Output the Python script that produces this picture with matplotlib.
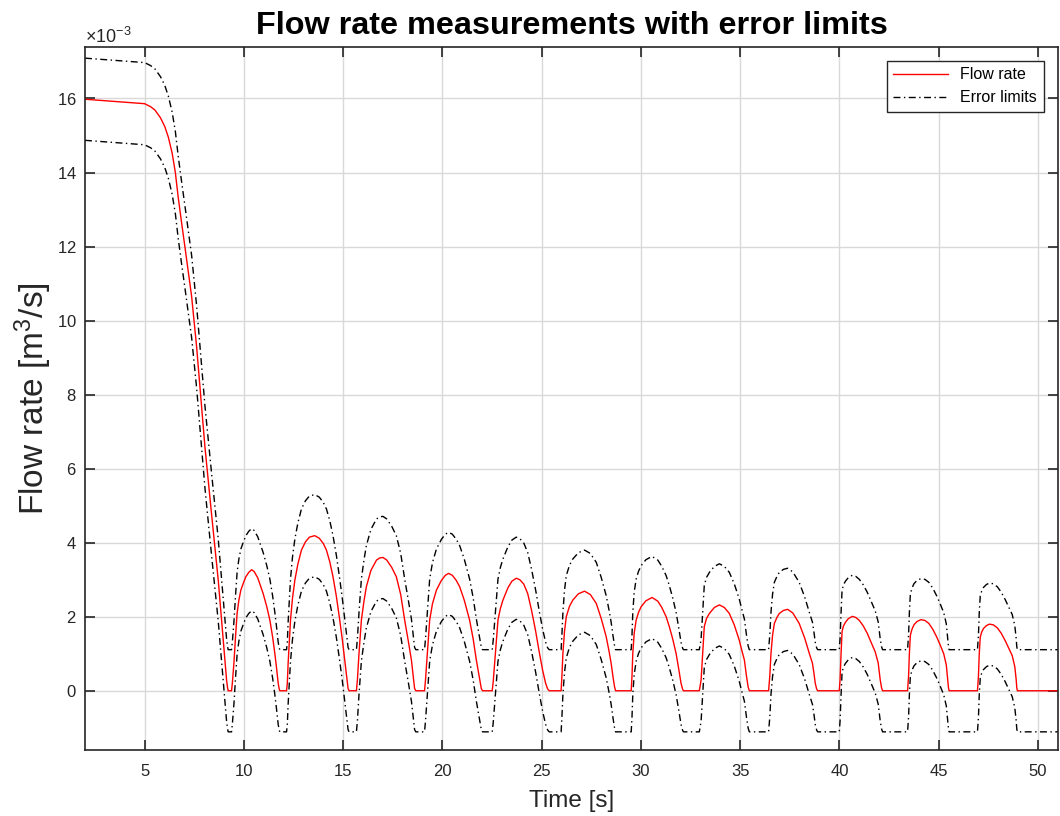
import matplotlib.pyplot as plt
from matplotlib.ticker import ScalarFormatter

plt.rcParams['font.family'] = ['Liberation Sans', 'DejaVu Sans']
plt.rcParams['mathtext.fontset'] = 'custom'
plt.rcParams['mathtext.rm'] = 'Liberation Sans'
plt.rcParams['mathtext.it'] = 'Liberation Sans:italic'

# time [s]
time = [
    2.00, 3.50, 5.00, 5.30, 5.52, 5.80, 6.02, 6.20, 6.39, 6.55, 6.69, 6.85, 7.03, 7.37, 7.62, 7.84,
    8.04, 8.37, 8.71, 8.99, 9.08, 9.13, 9.18, 9.21, 9.38,
    9.42, 9.50, 9.58, 9.66, 9.75, 9.85, 9.97, 10.10, 10.25, 10.39, 10.52, 10.70, 10.85, 10.97,
    11.15, 11.31, 11.45, 11.56, 11.65, 11.73, 11.78, 11.81, 12.15,
    12.19, 12.23, 12.35, 12.45, 12.57, 12.72, 12.90, 13.10, 13.30, 13.57, 13.80, 14.00, 14.16,
    14.33, 14.49, 14.66, 14.83, 14.96, 15.08, 15.17, 15.25, 15.30, 15.67,
    15.72, 15.80, 15.92, 16.05, 16.17, 16.40, 16.68, 16.85, 17.01, 17.20, 17.45, 17.68, 17.90,
    18.10, 18.28, 18.44, 18.53, 18.60, 18.66, 19.10,
    19.15, 19.22, 19.36, 19.50, 19.70, 19.95, 20.15, 20.31, 20.50, 20.70, 20.87, 21.10, 21.37,
    21.55, 21.71, 21.85, 21.96, 22.02, 22.51,
    22.56, 22.63, 22.80, 22.92, 23.05, 23.30, 23.50, 23.72, 23.90, 24.10, 24.30, 24.50, 24.70,
    24.89, 25.05, 25.20, 25.30, 25.38, 25.98,
    26.02, 26.07, 26.15, 26.24, 26.40, 26.57, 26.85, 27.16, 27.45, 27.75, 28.00, 28.25, 28.40,
    28.50, 28.60, 28.67, 28.72, 29.51,
    29.55, 29.59, 29.66, 29.76, 29.88, 30.01, 30.25, 30.56, 30.85, 31.05, 31.27, 31.43, 31.60,
    31.77, 31.90, 32.02, 32.10, 32.14, 32.94,
    33.03, 33.11, 33.19, 33.30, 33.45, 33.70, 33.95, 34.20, 34.45, 34.70, 34.95, 35.10, 35.21,
    35.32, 35.40, 35.46, 36.43,
    36.49, 36.55, 36.63, 36.72, 36.85, 36.97, 37.18, 37.39, 37.65, 37.97, 38.25, 38.48, 38.64,
    38.72, 38.78, 38.85, 38.90, 39.99,
    40.03, 40.08, 40.13, 40.20, 40.30, 40.45, 40.65, 40.82, 41.00, 41.20, 41.40, 41.60, 41.80,
    41.95, 42.05, 42.12, 42.17, 43.43,
    43.48, 43.52, 43.57, 43.65, 43.75, 43.90, 44.10, 44.30, 44.50, 44.70, 44.90, 45.10, 45.25,
    45.38, 45.45, 45.49, 45.52, 46.95,
    47.00, 47.04, 47.09, 47.16, 47.25, 47.40, 47.55, 47.75, 47.95, 48.15, 48.35, 48.55, 48.70,
    48.83, 48.90, 48.93, 48.96, 51.00,
]

# flow rate [1e-3 m^3/s]
flow = [
    15.98, 15.92, 15.86, 15.78, 15.69, 15.48, 15.24, 14.95, 14.52, 14.00, 13.35, 12.70, 12.00, 10.65, 9.30, 7.88,
    6.59, 4.79, 2.99, 1.19, 0.60, 0.29, 0.08, 0.00, 0.00,
    0.20, 0.75, 1.45, 2.09, 2.45, 2.72, 2.90, 3.08, 3.20, 3.27, 3.22, 3.05, 2.82, 2.63,
    2.28, 1.91, 1.45, 1.01, 0.60, 0.20, 0.05, 0.00, 0.00,
    0.20, 0.74, 1.91, 2.50, 2.99, 3.42, 3.80, 4.02, 4.15, 4.19, 4.12, 3.98, 3.80,
    3.48, 3.08, 2.55, 1.91, 1.38, 0.83, 0.40, 0.06, 0.00, 0.00,
    0.30, 1.01, 1.91, 2.42, 2.81, 3.25, 3.53, 3.59, 3.60, 3.53, 3.33, 3.08, 2.60,
    1.91, 1.35, 0.83, 0.40, 0.06, 0.00, 0.00,
    0.30, 0.83, 1.91, 2.35, 2.72, 2.98, 3.12, 3.17, 3.12, 2.98, 2.81, 2.45, 1.91,
    1.40, 0.83, 0.40, 0.06, 0.00, 0.00,
    0.25, 0.74, 1.91, 2.22, 2.45, 2.78, 2.96, 3.04, 3.00, 2.88, 2.62, 2.15, 1.60,
    1.01, 0.55, 0.20, 0.05, 0.00, 0.00,
    0.40, 1.01, 1.60, 2.00, 2.28, 2.45, 2.62, 2.69, 2.60, 2.36, 1.95, 1.46, 1.05,
    0.74, 0.35, 0.11, 0.00, 0.00,
    0.40, 1.01, 1.55, 1.91, 2.12, 2.27, 2.43, 2.52, 2.42, 2.25, 2.00, 1.73, 1.40,
    1.01, 0.60, 0.20, 0.04, 0.00, 0.00,
    0.29, 1.01, 1.73, 1.95, 2.09, 2.25, 2.32, 2.25, 2.09, 1.78, 1.37, 1.05, 0.83,
    0.38, 0.10, 0.00, 0.00,
    0.40, 1.01, 1.50, 1.82, 1.98, 2.09, 2.17, 2.20, 2.10, 1.82, 1.42, 1.01, 0.74,
    0.45, 0.20, 0.05, 0.00, 0.00,
    0.30, 1.00, 1.60, 1.75, 1.85, 1.95, 2.01, 1.98, 1.90, 1.75, 1.55, 1.30, 1.05,
    0.75, 0.30, 0.08, 0.00, 0.00,
    0.40, 1.00, 1.50, 1.66, 1.78, 1.87, 1.92, 1.90, 1.82, 1.66, 1.45, 1.20, 1.00,
    0.70, 0.30, 0.08, 0.00, 0.00,
    0.40, 1.00, 1.45, 1.58, 1.68, 1.76, 1.80, 1.78, 1.70, 1.55, 1.35, 1.12, 0.95,
    0.65, 0.30, 0.08, 0.00, 0.00,
]

# absolute measurement error [1e-3 m^3/s]
error = 1.11

assert len(time) == len(flow)

flow_si = [v * 1e-3 for v in flow]
upper = [(v + error) * 1e-3 for v in flow]
lower = [(v - error) * 1e-3 for v in flow]

fig = plt.figure(figsize=(10.6, 8.16), dpi=100)
ax = fig.add_axes([0.0802, 0.0809, 0.9178, 0.8619])

dash = (0, (5, 2.5, 1, 2.5))
ax.plot(time, flow_si, color='red', lw=1.0, label='Flow rate')
ax.plot(time, upper, color='black', lw=1.0, linestyle=dash, label='Error limits')
ax.plot(time, lower, color='black', lw=1.0, linestyle=dash)

ax.set_xlim(2, 51)
ax.set_ylim(-1.6e-3, 17.4e-3)
ax.set_xticks(range(5, 51, 5))
ax.set_yticks([i * 1e-3 for i in range(0, 17, 2)])

fmt = ScalarFormatter(useMathText=True)
fmt.set_powerlimits((-3, -3))
ax.yaxis.set_major_formatter(fmt)
ax.yaxis.get_offset_text().set_fontsize(13)
ax.yaxis.get_offset_text().set_color('#262626')

ax.grid(True, color='#d9d9d9', lw=1.0)
ax.set_axisbelow(True)
for s in ax.spines.values():
    s.set_color('#262626')
    s.set_linewidth(1.2)
ax.tick_params(direction='in', length=7, width=1.2, colors='#262626',
               labelsize=12, top=True, right=True)
ax.tick_params(axis='x', pad=10)
ax.tick_params(axis='y', pad=6)

ax.set_title('Flow rate measurements with error limits', fontsize=23.3,
             fontweight='bold', pad=9)
ax.set_xlabel('Time [s]', fontsize=17.5, color='#262626', labelpad=8)
ax.set_ylabel('Flow rate [m$^3$/s]', fontsize=24, color='#262626', labelpad=2)

leg = ax.legend(loc='upper right', fontsize=11.5, fancybox=False,
                framealpha=1, edgecolor='#262626', borderaxespad=0.9,
                handlelength=3.4)
leg.get_frame().set_linewidth(1.0)

fig.savefig('out.png', dpi=100)
